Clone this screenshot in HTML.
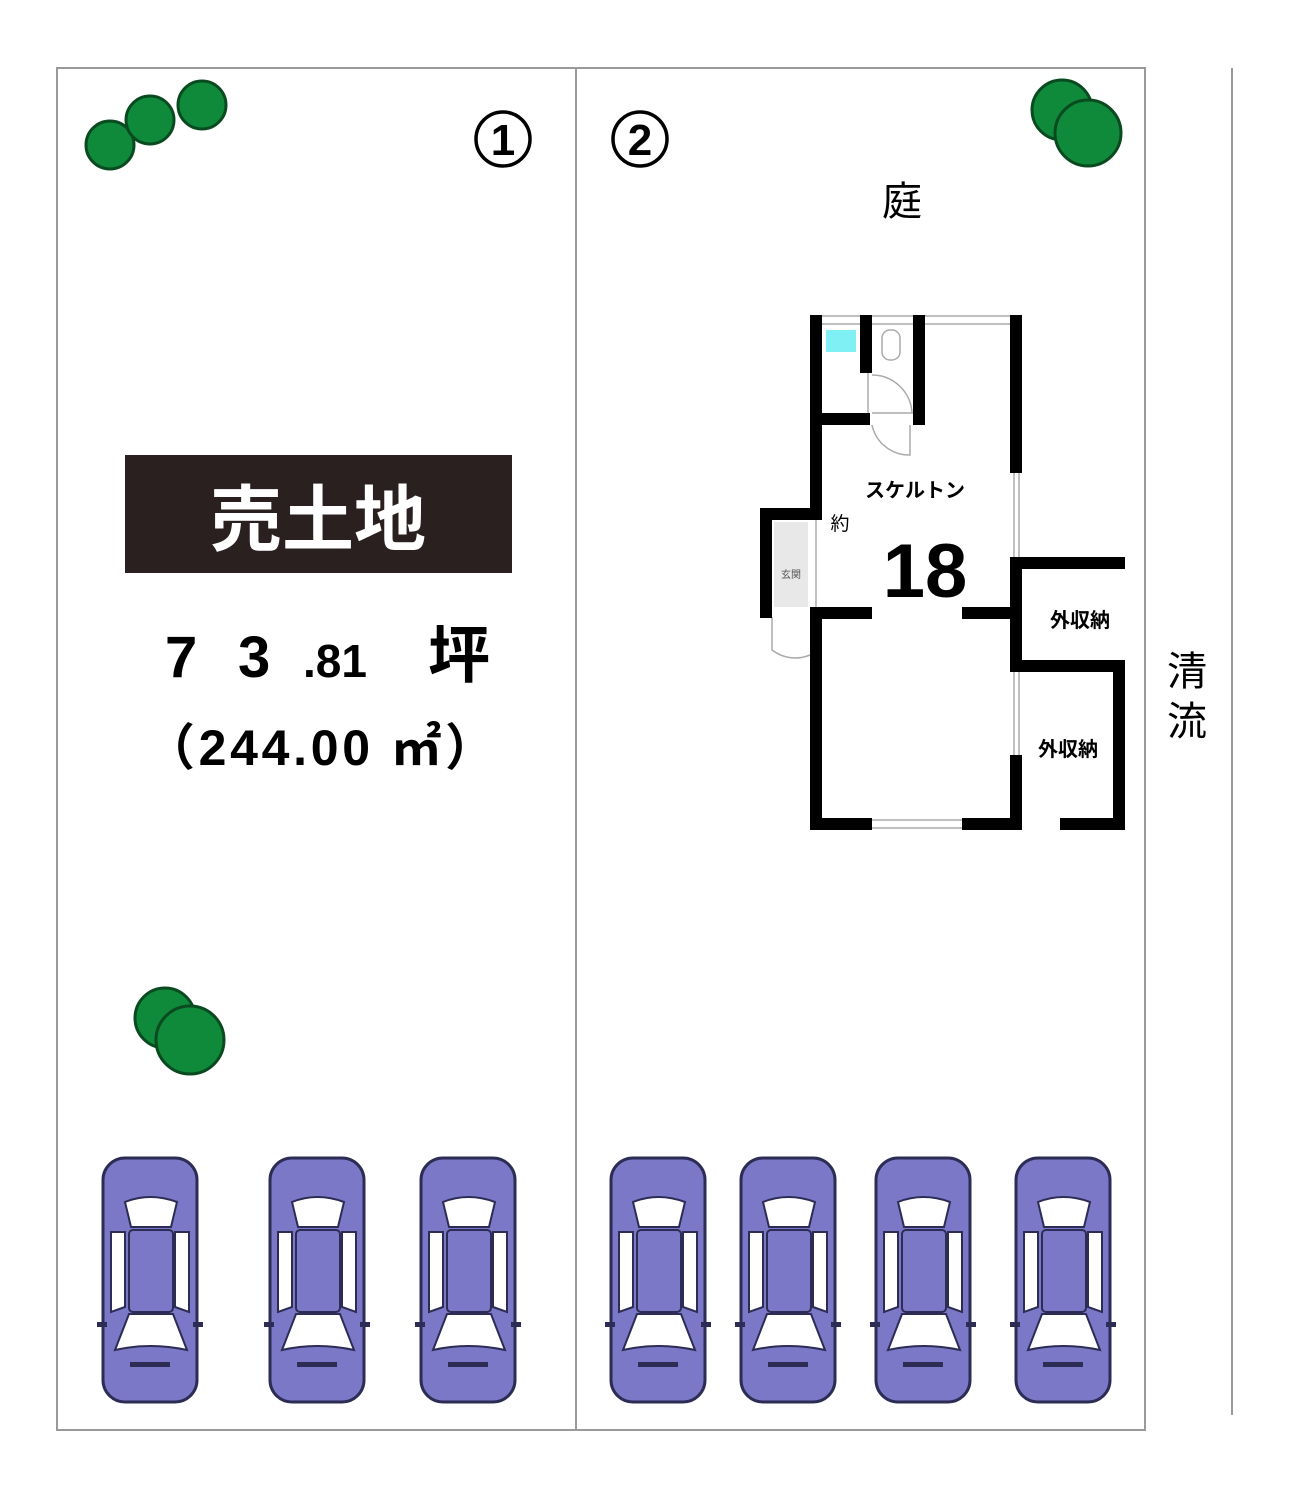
<!DOCTYPE html>
<html><head><meta charset="utf-8"><style>
body{margin:0;background:#fff;}
svg{display:block}
text{font-family:"Liberation Sans","Noto Sans CJK JP",sans-serif;}
</style></head><body>
<svg width="1300" height="1498" viewBox="0 0 1300 1498" xmlns="http://www.w3.org/2000/svg">
<defs>
<g id="car">
<rect x="8" y="6" width="94" height="244" rx="22" fill="#7b78c8" stroke="#2c2c55" stroke-width="3"/>
<path d="M30 50 Q55 40 82 50 L76 75 L36 75 Z" fill="#fff" stroke="#2c2c55" stroke-width="2"/>
<rect x="34" y="78" width="44" height="82" rx="4" fill="#7b78c8" stroke="#2c2c55" stroke-width="2"/>
<path d="M16 80 L30 80 L30 155 L16 160 Z" fill="#fff" stroke="#2c2c55" stroke-width="2"/>
<path d="M94 80 L80 80 L80 155 L94 160 Z" fill="#fff" stroke="#2c2c55" stroke-width="2"/>
<path d="M34 162 L78 162 L92 198 Q55 190 20 198 Z" fill="#fff" stroke="#2c2c55" stroke-width="2"/>
<rect x="35" y="210" width="40" height="5" fill="#2c2c55"/>
<rect x="2" y="170" width="10" height="5" fill="#2c2c55"/>
<rect x="98" y="170" width="10" height="5" fill="#2c2c55"/>
</g>
</defs>
<g fill="none" stroke="#999" stroke-width="2">
<rect x="57" y="68" width="1088" height="1362"/>
<line x1="576" y1="68" x2="576" y2="1430"/>
<line x1="1232" y1="68" x2="1232" y2="1415"/>
</g>
<g fill="#0e8a3a" stroke="#0a4a20" stroke-width="3">
<circle cx="110" cy="145" r="24"/><circle cx="150" cy="120" r="24"/><circle cx="202" cy="105" r="24"/>
<circle cx="1062" cy="110" r="30"/><circle cx="1088" cy="133" r="33"/>
<circle cx="165" cy="1018" r="30"/><circle cx="190" cy="1040" r="34"/>
</g>
<circle cx="503" cy="139" r="27" fill="none" stroke="#000" stroke-width="3.5"/>
<text x="503" y="155" font-size="44" text-anchor="middle" font-weight="bold">1</text>
<circle cx="640" cy="139" r="27" fill="none" stroke="#000" stroke-width="3.5"/>
<text x="640" y="155" font-size="44" text-anchor="middle" font-weight="bold">2</text>
<text x="902" y="215" font-size="40" text-anchor="middle">庭</text>
<text x="1187" y="685" font-size="40" text-anchor="middle">清</text>
<text x="1187" y="735" font-size="40" text-anchor="middle">流</text>
<rect x="125" y="455" width="387" height="118" fill="#2a2020"/>
<text x="318" y="545" font-size="72" font-weight="bold" fill="#fff" text-anchor="middle">売土地</text>
<text x="165" y="677" font-size="58" font-weight="bold">7</text>
<text x="238" y="677" font-size="58" font-weight="bold">3</text>
<text x="303" y="677" font-size="46" font-weight="bold">.81</text>
<text x="428" y="677" font-size="62" font-weight="bold">坪</text>
<text x="145" y="765" font-size="50" font-weight="bold" textLength="350" lengthAdjust="spacing">（244.00 ㎡）</text>
<!-- floor plan -->
<g stroke="#aaa" stroke-width="1.5" fill="none">
<line x1="822" y1="316" x2="1010" y2="316"/><line x1="822" y1="324" x2="1010" y2="324"/>
<line x1="1014" y1="472" x2="1014" y2="560"/><line x1="1019" y1="472" x2="1019" y2="560"/>
<line x1="1014" y1="672" x2="1014" y2="755"/><line x1="1019" y1="672" x2="1019" y2="755"/>
<line x1="872" y1="820" x2="962" y2="820"/><line x1="872" y1="828" x2="962" y2="828"/>
<line x1="868" y1="372" x2="868" y2="413"/><line x1="872" y1="413" x2="913" y2="413"/>
<path d="M872 375 A40 40 0 0 1 912 413"/><path d="M910 425 L910 455 A38 38 0 0 1 872 425"/>
<path d="M772 617 L772 650 A38 38 0 0 0 810 655"/>
<line x1="816" y1="520" x2="816" y2="607"/>
<rect x="882" y="330" width="18" height="30" rx="8"/>
</g>
<rect x="774" y="522" width="34" height="85" fill="#e8e8e8"/>
<text x="791" y="578" font-size="10" text-anchor="middle" fill="#555">玄関</text>
<rect x="826" y="330" width="30" height="22" fill="#7ff0f4"/>
<g fill="#000">
<rect x="810" y="315" width="12" height="205"/>
<rect x="760" y="508" width="62" height="12"/>
<rect x="760" y="508" width="12" height="110"/>
<rect x="810" y="607" width="12" height="223"/>
<rect x="810" y="607" width="62" height="12"/>
<rect x="962" y="607" width="60" height="12"/>
<rect x="860" y="315" width="12" height="58"/>
<rect x="810" y="413" width="60" height="12"/>
<rect x="913" y="315" width="12" height="110"/>
<rect x="1010" y="315" width="12" height="158"/>
<rect x="1010" y="557" width="115" height="12"/>
<rect x="1010" y="557" width="12" height="115"/>
<rect x="1010" y="660" width="115" height="12"/>
<rect x="1113" y="660" width="12" height="170"/>
<rect x="1060" y="818" width="65" height="12"/>
<rect x="1010" y="755" width="12" height="75"/>
<rect x="810" y="818" width="62" height="12"/>
<rect x="962" y="818" width="60" height="12"/>
</g>
<text x="915" y="497" font-size="20" font-weight="bold" text-anchor="middle">スケルトン</text>
<text x="840" y="530" font-size="19" text-anchor="middle">約</text>
<text x="925" y="597" font-size="76" font-weight="bold" text-anchor="middle">18</text>
<text x="1080" y="627" font-size="20" font-weight="bold" text-anchor="middle">外収納</text>
<text x="1068" y="756" font-size="20" font-weight="bold" text-anchor="middle">外収納</text>
<use href="#car" x="95" y="1152"/>
<use href="#car" x="262" y="1152"/>
<use href="#car" x="413" y="1152"/>
<use href="#car" x="603" y="1152"/>
<use href="#car" x="733" y="1152"/>
<use href="#car" x="868" y="1152"/>
<use href="#car" x="1008" y="1152"/>
</svg>
</body></html>
